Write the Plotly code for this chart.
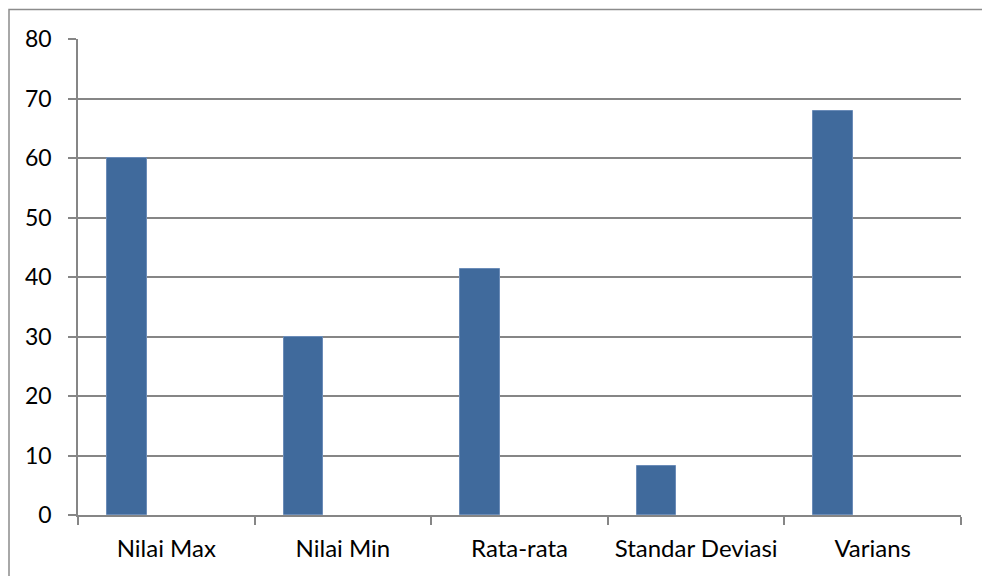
import plotly.graph_objects as go

categories = ["Nilai Max", "Nilai Min", "Rata-rata", "Standar Deviasi", "Varians"]
values = [60, 30, 41.3, 8.3, 67.9]
y_ticks = [0, 10, 20, 30, 40, 50, 60, 70, 80]

W, H = 982, 576
L, R, T, B = 78, 21, 39, 61
pw, ph = W - L - R, H - T - B

grid = "#868686"
fig = go.Figure()
fig.add_trace(go.Bar(
    x=categories, y=values,
    width=0.2237, offset=-0.3358,
    marker=dict(color="#406a9c", line=dict(color="#6b8cb8", width=1)),
    hoverinfo="x+y",
))

def px_x(p):
    return (p - L) / pw

def px_y(p):
    return (H - B - p) / ph

border = dict(color="#8c8c8c", width=1.5)
# frame drawn as an open path (top and left edges only)
fig.add_shape(type="path", xref="paper", yref="paper",
              path=f"M {px_x(9)},{px_y(H + 20)} L {px_x(9)},{px_y(9.5)} L {px_x(W + 20)},{px_y(9.5)}",
              line=border)

fig.update_layout(
    width=W, height=H,
    margin=dict(l=L, r=R, t=T, b=B, pad=0),
    paper_bgcolor="white", plot_bgcolor="white",
    showlegend=False,
    font=dict(family="Lato, Carlito, Calibri, sans-serif", size=24, color="black"),
    bargap=0,
)
fig.update_xaxes(
    type="category", range=[-0.5, 4.5],
    showline=True, linecolor=grid, linewidth=1.5,
    ticks="outside", tickson="boundaries", ticklen=8, tickcolor=grid, tickwidth=1.5,
    showgrid=False, ticklabelstandoff=11,
    tickfont=dict(size=24),
)
fig.update_yaxes(
    range=[0, 80], tickvals=y_ticks,
    showline=True, linecolor=grid, linewidth=1.5,
    ticks="outside", ticklen=8, tickcolor=grid, tickwidth=1.5,
    showgrid=True, gridcolor=grid, gridwidth=1.5,
    zeroline=False, ticklabelstandoff=12,
    tickfont=dict(size=23),
)

fig.write_html("out.html", config={"displayModeBar": False})
